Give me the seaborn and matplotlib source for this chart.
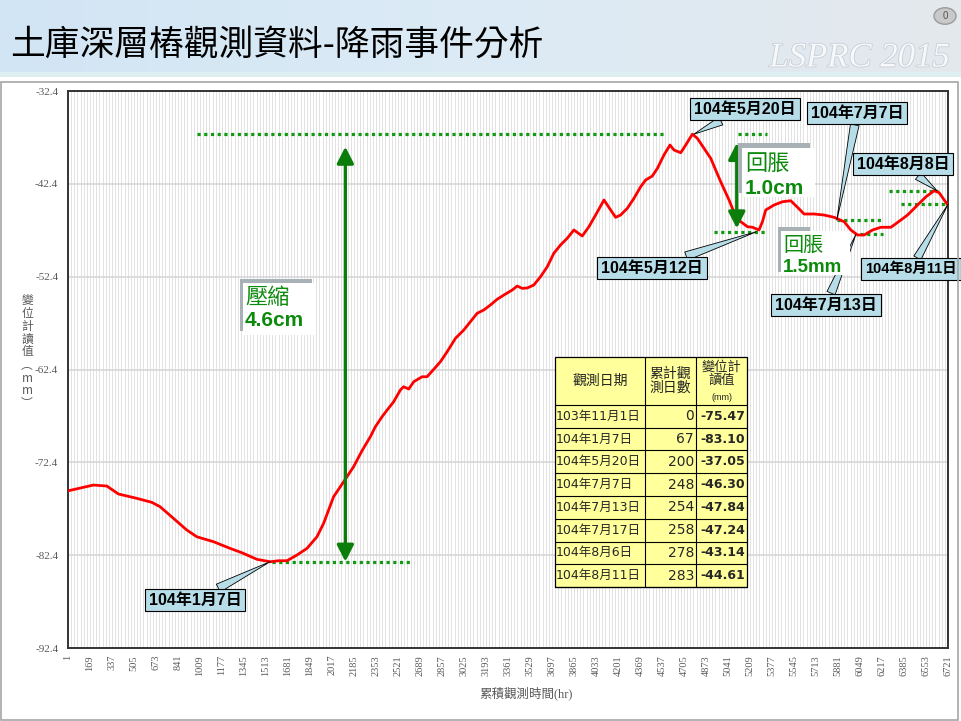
import numpy as np
import pandas as pd
import matplotlib
matplotlib.use('Agg')
import matplotlib.pyplot as plt
import matplotlib.patheffects as pe
from matplotlib.patches import Rectangle, Circle
from matplotlib.colors import LinearSegmentedColormap
import seaborn as sns

# 累積觀測時間(hr) 與 變位計讀值(mm)
hours = [1, 194, 297, 386, 526, 641, 704, 806, 908, 985, 1112, 1239, 1329, 1444, 1545,
         1609, 1673, 1749, 1826, 1902, 1953, 2029, 2106, 2182, 2249, 2310, 2348, 2399,
         2438, 2488, 2539, 2564, 2603, 2641, 2705, 2743, 2794, 2845, 2896, 2960, 3023,
         3074, 3125, 3176, 3227, 3278, 3329, 3393, 3431, 3470, 3508, 3558, 3609, 3661,
         3711, 3762, 3813, 3864, 3928, 3979, 4030, 4094, 4145, 4183, 4221, 4272, 4323,
         4374, 4412, 4463, 4502, 4552, 4598, 4629, 4680, 4718, 4769, 4807, 4832, 4909,
         4985, 5049, 5100, 5138, 5190, 5228, 5278, 5304, 5329, 5393, 5457, 5520, 5572,
         5622, 5699, 5775, 5852, 5928, 5979, 6030, 6081, 6145, 6208, 6285, 6361, 6412,
         6489, 6553, 6616, 6654, 6692, 6721]
readings = [-75.47, -74.85, -74.95, -75.81, -76.28, -76.71, -77.18, -78.43, -79.69, -80.42,
            -80.95, -81.67, -82.14, -82.85, -83.11, -83.00, -83.00, -82.39, -81.67, -80.42,
            -78.97, -76.11, -74.49, -72.87, -71.08, -69.64, -68.57, -67.49, -66.77, -65.87,
            -64.61, -64.26, -64.50, -63.72, -63.18, -63.18, -62.38, -61.56, -60.49, -59.04,
            -58.15, -57.25, -56.35, -55.99, -55.45, -54.84, -54.38, -53.84, -53.41, -53.66,
            -53.62, -53.30, -52.41, -51.33, -49.88, -48.99, -48.27, -47.37, -48.02, -47.02,
            -45.76, -44.14, -45.22, -46.01, -45.76, -45.04, -43.96, -42.71, -41.99, -41.56,
            -40.73, -39.29, -38.22, -38.76, -39.05, -38.22, -37.05, -37.50, -38.03, -39.65,
            -42.17, -44.14, -45.94, -46.48, -47.02, -47.08, -47.37, -46.48, -45.22, -44.68,
            -44.33, -44.22, -44.93, -45.65, -45.65, -45.76, -46.01, -46.48, -47.37, -47.91,
            -47.91, -47.37, -47.08, -47.08, -46.30, -45.76, -44.68, -43.79, -43.14, -43.36,
            -44.14, -44.70]

# table in the chart
obs_dates = ['103年11月1日', '104年1月7日', '104年5月20日', '104年7月7日',
             '104年7月13日', '104年7月17日', '104年8月6日', '104年8月11日']
obs_days = [0, 67, 200, 248, 254, 258, 278, 283]
obs_values = [-75.47, -83.10, -37.05, -46.30, -47.84, -47.24, -43.14, -44.61]

# callouts
callout_labels = ['104年1月7日', '104年5月20日', '104年7月7日', '104年8月8日',
                  '104年5月12日', '104年7月13日', '104年8月11日']
callout_hours = [1545, 4781, 5872, 6637, 5258, 6018, 6721]
callout_values = [-83.10, -37.05, -46.30, -43.14, -47.56, -47.84, -44.61]
callout_px = [(195, 600), (745, 109), (857, 113), (903, 164), (652, 268), (826, 305), (911, 269)]
callout_size = [11.5, 11.5, 11.5, 11.5, 11.5, 11.5, 10.5]

# green dotted reference levels
level_values = [-37.05, -83.10, -37.05, -47.6, -46.30, -47.84, -43.14, -44.61]
level_start = [987, 1561, 5116, 4932, 5872, 6048, 6270, 6362]
level_end = [4550, 2631, 5337, 5330, 6209, 6224, 6645, 6721]

W, H = 961, 721
def fx(x, y):
    return (x / W, 1 - y / H)

sns.set_style('white')
plt.rcParams['font.family'] = ['Liberation Sans', 'Noto Sans CJK TC', 'DejaVu Sans']

fig = plt.figure(figsize=(9.61, 7.21), dpi=100)

# slide header
hdr = fig.add_axes([0, 1 - 72 / H, 1, 72 / H])
grad = np.linspace(0, 1, 256).reshape(1, -1)
cmap = LinearSegmentedColormap.from_list('hdr', ['#d2e5f4', '#dcebf6', '#e4e8ec'])
hdr.imshow(grad, aspect='auto', cmap=cmap, extent=[0, 1, 0, 1])
hdr.axis('off')
fig.add_artist(Rectangle(fx(0, 77), 1, 5 / H, transform=fig.transFigure,
                         fc='#ddeff1', ec='none'))
fig.add_artist(Rectangle(fx(1, 720), 957 / W, 638 / H, transform=fig.transFigure,
                         fc='none', ec='#a6a6a6', lw=1.2))
fig.text(*fx(10, 45), '土庫深層樁觀測資料-降雨事件分析', fontsize=25, color='black',
         va='center', ha='left', family=['Noto Sans CJK TC', 'DejaVu Sans'])
fig.text(*fx(950, 58), 'LSPRC 2015', fontsize=25, style='italic', color='#f6f8fa',
         family='Liberation Serif', ha='right', va='center',
         path_effects=[pe.withStroke(linewidth=1.2, foreground='#c8cfd6')])
fig.add_artist(Circle(fx(945, 16), 11 / W, transform=fig.transFigure,
                      fc='#c9c9c9', ec='#9a9a9a', lw=1))
fig.text(*fx(945, 16), '0', fontsize=7, color='#555555', ha='center', va='center')

# chart
ax = fig.add_axes([68 / W, 1 - 648 / H, 880 / W, 557 / H])
sns.lineplot(x=hours, y=readings, ax=ax, color='#ff0000', lw=2, zorder=4)
ax.set_xlim(1, 6721)
ax.set_ylim(-92.4, -32.4)
xt = np.arange(1, 6722, 168)
ax.set_xticks(xt)
ax.set_xticklabels([str(v) for v in xt], rotation=90, fontsize=7.5,
                   family='Liberation Serif', color='#595959')
ax.set_xticks(np.arange(1, 6721, 24), minor=True)
yt = np.arange(-92.4, -32.3, 10)
ax.set_yticks(yt)
ax.set_yticklabels(['%.1f' % v for v in yt], fontsize=8,
                   family='Liberation Serif', color='#595959')
ax.tick_params(which='both', length=0)
ax.tick_params(axis='y', pad=7)
ax.tick_params(axis='x', pad=5)
ax.grid(axis='x', which='both', color='#e2e2e2', lw=0.7)
ax.grid(axis='y', which='major', color='#d4d4d4', lw=1.1)
for s in ax.spines.values():
    s.set_color('#333333')
    s.set_linewidth(1.4)
ax.set_xlabel('')
ax.set_ylabel('')

fig.text(*fx(526, 693), '累積觀測時間(hr)', fontsize=9, color='#595959', ha='center',
         va='center', family=['Liberation Serif', 'Noto Sans CJK TC'])
fig.text(*fx(27, 352), '\n'.join(['變', '位', '計', '讀', '值', '︵', 'm', 'm', '︶']),
         fontsize=8.5, color='#595959', ha='center', va='center', linespacing=1.0,
         family=['Noto Sans CJK TC', 'DejaVu Sans'])

green = '#0b8a0b'
for v, a, b in zip(level_values, level_start, level_end):
    ax.plot([a, b], [v, v], color='#119a11', lw=2.3, ls=(0, (1, 1.1)), zorder=3)

for h, top, bot in [(2119, -38.4, -83.1), (5108, -38.0, -47.2)]:
    ax.annotate('', xy=(h, top), xytext=(h, bot),
                arrowprops=dict(arrowstyle='<|-|>,head_length=0.55,head_width=0.28',
                                color='#0a7d0a', lw=2.4, shrinkA=0, shrinkB=0,
                                mutation_scale=18), zorder=5)

# green text boxes with grey shadow
boxes = [((240, 279, 312, 331), (243, 283, 316, 335), '壓縮', '4.6cm', 16, 15, 297, 321, 245),
         ((738, 143, 810, 193), (742, 148, 815, 197), '回脹', '1.0cm', 16, 15, 164, 188, 745),
         ((778, 227, 810, 272), (781, 231, 850, 275), '回脹', '1.5mm', 14.5, 13.5, 245, 267, 783)]
for g, wbox, t1, t2, s1, s2, y1, y2, xl in boxes:
    fig.add_artist(Rectangle(fx(g[0], g[3]), (g[2] - g[0]) / W, (g[3] - g[1]) / H,
                             transform=fig.transFigure, fc='#a7b1b6', ec='none'))
    fig.add_artist(Rectangle(fx(wbox[0], wbox[3]), (wbox[2] - wbox[0]) / W,
                             (wbox[3] - wbox[1]) / H, transform=fig.transFigure,
                             fc='white', ec='none'))
    fig.text(*fx(xl, y1), t1, fontsize=s1, color=green, va='center', ha='left',
             family=['Noto Sans CJK TC', 'DejaVu Sans'])
    fig.text(*fx(xl, y2), t2, fontsize=s2, color=green, va='center', ha='left',
             fontweight='bold')

# callouts
for lab, h, v, (cx, cy), fs in zip(callout_labels, callout_hours, callout_values,
                                   callout_px, callout_size):
    ax.annotate(lab, xy=(h, v), xytext=fx(cx, cy), textcoords='figure fraction',
                ha='center', va='center', fontsize=fs, fontweight='bold', color='black',
                bbox=dict(boxstyle='square,pad=0.25', fc='#b7dde8', ec='black', lw=0.8),
                arrowprops=dict(arrowstyle='wedge,tail_width=0.55', fc='#b7dde8',
                                ec='black', lw=0.6, shrinkA=0, shrinkB=0),
                annotation_clip=False, zorder=6)

# data table
tx0, tx1, tx2, tx3 = 555, 645, 696, 747
ty0, ty1 = 357, 405
rh = (587 - 405) / len(obs_dates)
fig.add_artist(Rectangle(fx(tx0, 587), (tx3 - tx0) / W, (587 - ty0) / H,
                         transform=fig.transFigure, fc='#ffff9c', ec='black', lw=0.9))
for xv in (tx1, tx2):
    fig.add_artist(plt.Line2D([xv / W, xv / W], [1 - ty0 / H, 1 - 587 / H],
                              transform=fig.transFigure, color='black', lw=0.8))
for i in range(len(obs_dates) + 1):
    yv = ty1 + i * rh
    fig.add_artist(plt.Line2D([tx0 / W, tx3 / W], [1 - yv / H, 1 - yv / H],
                              transform=fig.transFigure, color='black', lw=0.8))
cjk = ['Noto Sans CJK TC', 'DejaVu Sans']
fig.text(*fx((tx0 + tx1) / 2, 381), '觀測日期', fontsize=10, ha='center', va='center', family=cjk)
fig.text(*fx((tx1 + tx2) / 2, 381), '累計觀\n測日數', fontsize=10, ha='center', va='center',
         family=cjk, linespacing=1.0)
fig.text(*fx((tx2 + tx3) / 2, 374), '變位計\n讀值', fontsize=9.5, ha='center', va='center',
         family=cjk, linespacing=1.0)
fig.text(*fx((tx2 + tx3) / 2, 397), '(mm)', fontsize=6.5, ha='center', va='center')
for i, (d, n, v) in enumerate(zip(obs_dates, obs_days, obs_values)):
    yc = ty1 + (i + 0.5) * rh
    fig.text(*fx(tx0 + 1, yc), d, fontsize=9, ha='left', va='center',
             family=['DejaVu Sans', 'Noto Sans CJK TC'])
    fig.text(*fx(tx2 - 2, yc), str(n), fontsize=10, ha='right', va='center',
             family='DejaVu Sans')
    fig.text(*fx(tx3 - 2, yc), '%.2f' % v, fontsize=9, ha='right', va='center',
             family='DejaVu Sans', fontweight='bold')

fig.savefig('out.png', dpi=100)
